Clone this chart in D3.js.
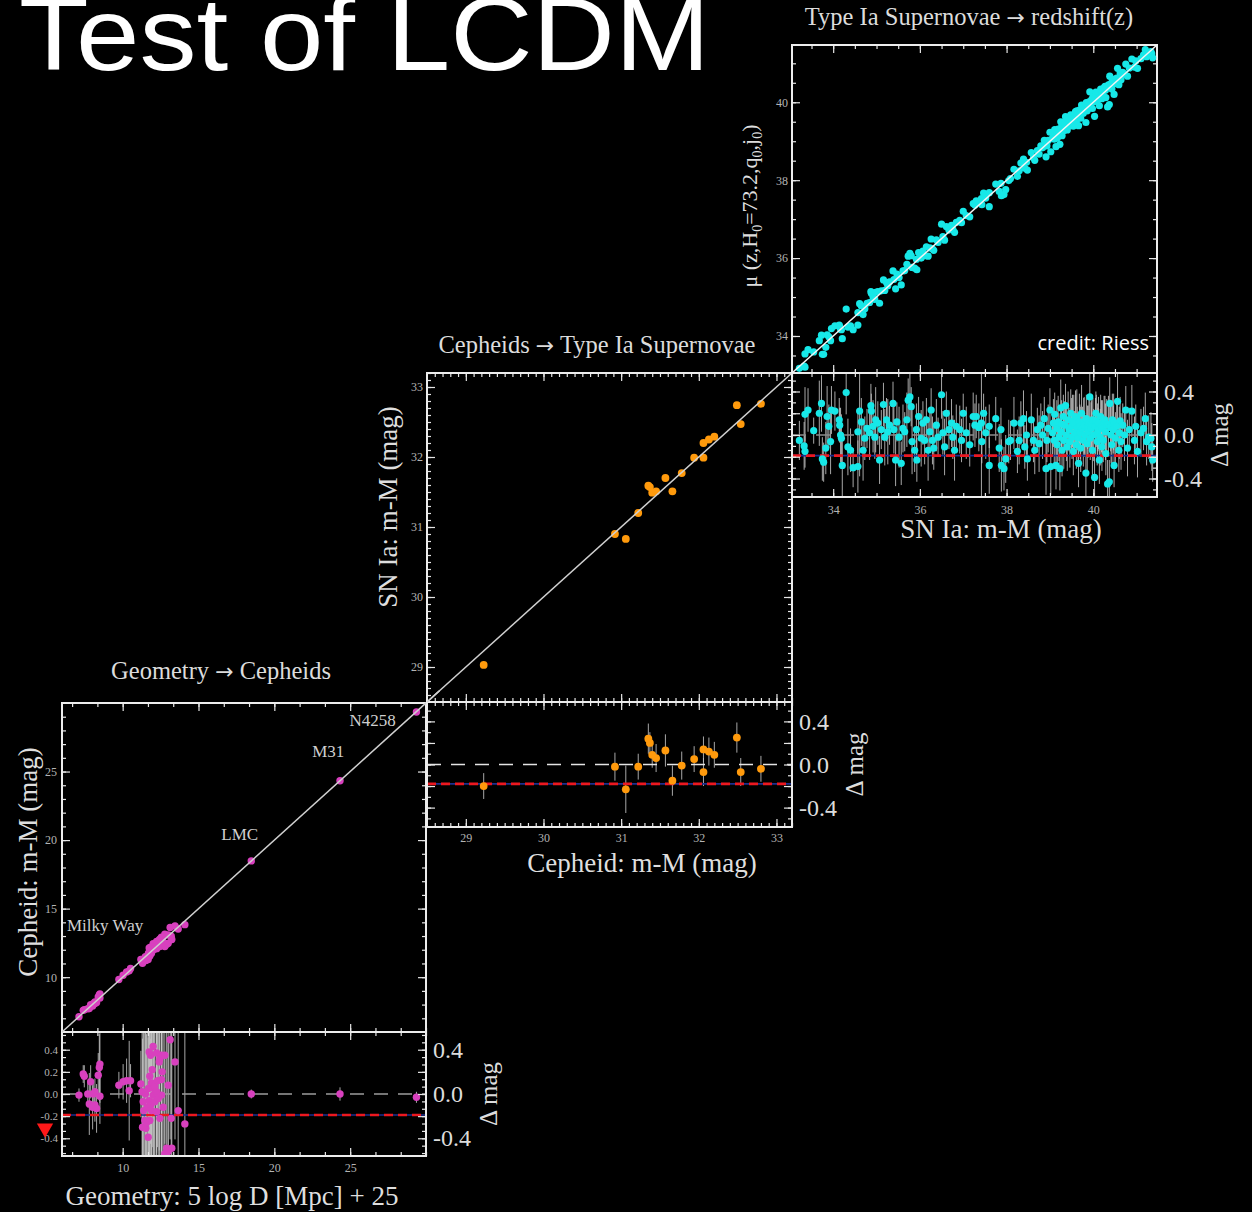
<!DOCTYPE html>
<html>
<head>
<meta charset="utf-8">
<script src="https://cdn.jsdelivr.net/npm/d3@7"></script>
<style>
  body { margin: 0; background: #000; }
  svg { display: block; }
</style>
</head>
<body>
<script>
// ---------------- data ----------------
var titleText = "Test of LCDM";
var panelTitles = [["Geometry", "Cepheids"], ["Cepheids", "Type Ia Supernovae"], ["Type Ia Supernovae", "redshift(z)"]];
var xTitles = ["Geometry: 5 log D [Mpc] + 25", "Cepheid: m-M (mag)", "SN Ia: m-M (mag)"];
var yTitles = ["Cepheid: m-M (mag)", "SN Ia: m-M (mag)"];
var galaxyNames = ["Milky Way", "LMC", "M31", "N4258"];
var creditText = "credit: Riess";

var p1Ticks = [10, 15, 20, 25];
var p2Ticks = [29, 30, 31, 32, 33];
var p3Ticks = [34, 36, 38, 40];
var resLeftTicks = [0.4, 0.2, 0.0, -0.2, -0.4];
var resRightTicks = [0.4, 0.0, -0.4];
var offsetLevel = [-0.19, -0.18, -0.19];   // red dashed line in each residual panel

// geometry distance, residual (Cepheid - geometry), error
var geoCeph = [
  [7.12,-0.01,0.06],[7.40,0.18,0.08],[7.47,0.16,0.10],[7.70,0.00,0.12],[7.89,0.11,0.15],[7.80,-0.09,0.28],
  [8.02,-0.12,0.20],[8.06,0.00,0.10],[8.17,-0.10,0.15],[8.17,0.02,0.12],[8.28,-0.13,0.22],[8.39,0.17,0.20],
  [8.46,0.24,0.30],[8.50,0.27,0.35],[8.50,-0.02,0.25],
  [9.75,0.08,0.12],[10.03,0.11,0.16],[10.26,0.12,0.20],[10.43,0.03,0.45],[10.52,0.12,0.15],
  [11.20,0.09,0.30],[11.28,0.02,0.90],[11.31,-0.30,0.80],[11.35,-0.07,1.00],[11.39,-0.15,0.70],[11.46,-0.24,0.90],
  [11.50,0.00,0.60],[11.53,-0.31,1.00],[11.57,-0.26,0.80],[11.62,-0.12,1.10],[11.68,-0.39,0.90],[11.70,0.05,0.70],
  [11.75,0.38,1.00],[11.75,-0.06,0.80],[11.79,0.16,0.90],[11.79,-0.24,1.20],[11.84,0.35,0.80],[11.85,-0.10,0.60],
  [11.90,0.10,1.00],[11.90,-0.15,0.90],[11.95,0.22,0.70],[12.01,0.43,1.10],[12.01,-0.01,0.80],[12.05,0.05,0.90],
  [12.12,0.07,1.00],[12.12,-0.07,0.70],[12.24,0.37,0.90],[12.24,0.02,0.80],[12.24,-0.16,1.00],[12.30,0.12,0.60],
  [12.35,-0.04,0.90],[12.41,0.29,0.80],[12.45,0.32,1.00],[12.45,-0.22,0.90],[12.56,0.35,0.70],[12.56,0.13,1.10],
  [12.56,-0.01,0.80],[12.60,0.20,0.90],[12.67,-0.12,1.00],[12.78,0.35,0.80],[12.78,-0.54,0.90],[12.90,-0.49,1.20],
  [13.00,0.08,0.80],[13.00,-0.52,1.00],[13.13,0.49,0.90],[13.20,-0.22,0.80],[13.24,-0.49,1.10],[13.45,0.29,0.70],
  [13.66,-0.15,1.00],[14.10,-0.27,0.90],
  [18.48,0.00,0.04],[24.33,0.00,0.06],[29.37,-0.03,0.05]
];

// Cepheid m-M, SN Ia m-M, error
var cephSn = [
  [29.23,29.03,0.12],[30.92,30.90,0.13],[31.06,30.83,0.22],[31.22,31.20,0.12],[31.35,31.59,0.14],
  [31.37,31.57,0.10],[31.40,31.49,0.12],[31.45,31.51,0.13],[31.57,31.70,0.15],[31.66,31.51,0.14],
  [31.78,31.77,0.13],[31.94,31.99,0.12],[32.06,31.99,0.13],[32.06,32.20,0.12],[32.13,32.25,0.13],
  [32.20,32.29,0.12],[32.49,32.74,0.14],[32.54,32.47,0.13],[32.80,32.76,0.12]
];

// SN Ia m-M, residual (mu(z) - SN), error
var snHubble = [
  [33.22,-0.05,0.18],[33.33,-0.10,0.22],[33.35,-0.15,0.15],[33.35,0.19,0.25],[33.42,0.23,0.20],[33.55,0.04,0.12],
  [33.68,0.20,0.30],[33.73,0.29,0.26],[33.75,-0.22,0.20],[33.78,-0.25,0.18],[33.83,-0.12,0.24],[33.86,0.17,0.28],
  [33.90,0.08,0.20],[33.96,0.23,0.22],[33.94,-0.06,0.30],[34.04,0.22,0.18],[34.14,0.14,0.20],[34.15,0.09,0.16],
  [34.17,0.00,0.25],[34.19,-0.03,0.22],[34.21,-0.28,0.30],[34.30,0.39,0.20],[34.34,-0.11,0.26],[34.40,-0.14,0.20],
  [34.46,-0.30,0.18],[34.57,-0.29,0.24],[34.57,0.03,0.20],[34.61,0.22,0.60],[34.65,0.12,0.22],[34.69,-0.14,0.28],
  [34.73,-0.03,0.20],[34.78,0.06,0.18],[34.84,0.02,0.25],[34.87,0.27,0.20],[34.88,0.22,0.16],[34.92,0.08,0.24],
  [34.96,-0.02,0.20],[34.98,0.14,0.30],[35.03,0.11,0.20],[35.07,-0.23,0.22],[35.11,0.05,0.18],[35.16,0.28,0.20],
  [35.19,-0.02,0.26],[35.23,0.14,0.20],[35.26,0.03,0.30],[35.30,0.09,0.18],[35.38,0.29,0.20],[35.40,0.05,0.22],
  [35.44,-0.23,0.24],[35.47,0.12,0.18],[35.52,-0.02,0.28],[35.57,-0.26,0.20],[35.61,0.06,0.22],[35.65,0.03,0.18],
  [35.70,0.14,0.25],[35.73,0.32,0.20],[35.77,0.35,0.22],[35.80,0.26,0.18],[35.82,-0.06,0.30],[35.88,-0.14,0.20],
  [35.92,0.05,0.24],[35.93,-0.23,0.20],[35.97,0.17,0.18],[36.03,-0.03,0.26],[36.07,0.11,0.20],[36.11,-0.05,0.22],
  [36.15,0.14,0.20],[36.19,-0.14,0.28],[36.23,0.03,0.18],[36.26,0.23,0.20],[36.29,-0.05,0.22],[36.32,-0.12,0.20],
  [36.38,0.09,0.24],[36.42,-0.02,0.18],[36.50,0.37,0.22],[36.53,0.02,0.20],[36.57,-0.11,0.26],[36.61,0.20,0.20],
  [36.67,0.05,0.18],[36.73,0.11,0.22],[36.76,-0.02,0.20],[36.80,-0.14,0.28],[36.84,0.08,0.20],[36.92,0.05,0.22],
  [36.96,-0.05,0.20],[37.00,0.20,0.18],[37.07,0.02,0.24],[37.15,-0.09,0.20],[37.23,0.17,0.22],[37.27,0.09,0.20],
  [37.30,0.17,0.20],[37.36,0.07,0.22],[37.42,0.11,0.80],[37.43,-0.06,0.20],[37.47,0.20,0.18],[37.52,0.02,0.24],
  [37.60,0.08,0.20],[37.60,-0.28,0.26],[37.75,0.15,0.20],[37.83,-0.12,0.22],[37.87,0.05,0.20],[37.88,-0.28,0.24],
  [37.94,-0.31,0.20],[37.98,-0.22,0.22],[38.05,-0.06,0.20],[38.09,-0.05,0.18],[38.17,0.11,0.24],[38.25,-0.15,0.20],
  [38.29,-0.05,0.22],[38.33,0.11,0.20],[38.39,0.15,0.26],[38.42,-0.11,0.20],[38.46,0.00,0.22],[38.48,-0.22,0.20],
  [38.57,0.14,0.24],[38.62,-0.05,0.20],[38.65,-0.14,0.22],[38.71,0.05,0.20],[38.75,-0.08,0.26],[38.79,0.09,0.20],
  [38.83,0.00,0.22],[38.87,0.15,0.20],[38.91,-0.31,0.24],[38.93,-0.05,0.20],[38.96,0.06,0.22],[39.00,0.23,0.20],
  [39.02,-0.29,0.26],[39.06,0.02,0.20],[39.08,0.11,0.22],[39.10,-0.05,0.24],[39.11,0.19,0.20],[39.14,-0.28,0.22],
  [39.16,0.06,0.26],[39.17,-0.09,0.20],[39.19,0.12,0.24],[39.21,-0.02,0.22],[39.23,-0.31,0.20],[39.25,0.25,0.26],
  [39.26,0.03,0.20],[39.27,0.10,0.22],[39.28,-0.14,0.24],[39.31,0.17,0.20],[39.32,-0.05,0.26],[39.34,0.09,0.22],
  [39.36,0.27,0.20],[39.38,0.00,0.24],[39.40,-0.11,0.22],[39.42,0.14,0.26],[39.44,0.05,0.20],[39.46,-0.06,0.24],
  [39.48,0.20,0.22],[39.50,0.08,0.26],[39.51,-0.02,0.20],[39.52,0.13,0.24],[39.54,-0.15,0.22],[39.55,0.11,0.26],
  [39.57,0.02,0.20],[39.59,0.17,0.24],[39.61,-0.09,0.22],[39.62,0.16,0.26],[39.63,0.06,0.20],[39.65,-0.03,0.24],
  [39.66,-0.26,0.22],[39.68,0.12,0.26],[39.69,0.08,0.20],[39.70,0.02,0.24],[39.71,-0.12,0.22],[39.73,0.20,0.26],
  [39.75,0.06,0.20],[39.77,-0.05,0.24],[39.78,0.12,0.22],[39.79,0.09,0.26],[39.80,0.00,0.20],[39.83,-0.35,0.24],
  [39.84,0.15,0.22],[39.86,-0.08,0.26],[39.87,0.07,0.20],[39.88,0.03,0.24],[39.90,0.11,0.22],[39.92,0.35,0.50],
  [39.93,-0.03,0.20],[39.95,0.06,0.24],[39.96,0.10,0.22],[39.98,-0.14,0.26],[39.99,0.14,0.20],[40.01,0.00,0.24],
  [40.03,-0.39,0.22],[40.05,0.08,0.26],[40.06,0.20,0.20],[40.07,0.13,0.24],[40.09,-0.06,0.22],[40.10,0.03,0.26],
  [40.11,0.05,0.20],[40.12,0.11,0.24],[40.14,-0.23,0.22],[40.16,-0.02,0.26],[40.17,0.17,0.20],[40.19,0.08,0.24],
  [40.20,-0.11,0.22],[40.21,0.06,0.26],[40.23,-0.05,0.20],[40.25,0.12,0.24],[40.27,0.14,0.22],[40.28,0.03,0.26],
  [40.29,-0.17,0.20],[40.31,0.09,0.24],[40.33,-0.45,0.22],[40.35,0.10,0.26],[40.37,-0.43,0.20],[40.38,0.29,0.24],
  [40.40,0.07,0.22],[40.41,0.00,0.26],[40.43,-0.09,0.20],[40.44,0.14,0.24],[40.46,0.05,0.22],[40.47,0.12,0.26],
  [40.48,-0.28,0.20],[40.51,-0.03,0.24],[40.54,0.08,0.22],[40.56,0.31,0.26],[40.59,-0.14,0.20],[40.60,0.02,0.24],
  [40.62,0.13,0.22],[40.64,-0.06,0.26],[40.68,0.09,0.20],[40.72,0.00,0.24],[40.75,0.23,0.22],[40.79,-0.12,0.26],
  [40.83,0.05,0.20],[40.89,0.22,0.24],[40.95,-0.05,0.22],[40.98,0.08,0.20],[41.02,-0.15,0.24],[41.10,0.02,0.22],
  [41.16,0.06,0.20],[41.20,0.15,0.24],[41.23,-0.06,0.22],[41.28,-0.02,0.20],[41.33,-0.03,0.24],[41.35,-0.11,0.22],
  [41.37,-0.23,0.20]
];

// ---------------- drawing ----------------
var SERIF = '"Liberation Serif", "Times New Roman", serif';
var svg = d3.select("body").append("svg").attr("width", 1252).attr("height", 1212).style("background", "#000");
var defs = svg.append("defs");

// ticks pointing inward on four sides + box
function frame(g, x, y, xMaj, xMin, yMaj, yMin) {
  var xr = x.range(), yr = y.range();
  var sides = [
    [d3.axisBottom, x, 0, yr[0], xMaj, xMin],
    [d3.axisTop, x, 0, yr[1], xMaj, xMin],
    [d3.axisLeft, y, xr[0], 0, yMaj, yMin],
    [d3.axisRight, y, xr[1], 0, yMaj, yMin]
  ];
  sides.forEach(function(s) {
    [[s[5], 4], [s[4], 8]].forEach(function(t) {
      g.append("g").attr("transform", "translate(" + s[2] + "," + s[3] + ")")
        .call(s[0](s[1]).tickValues(t[0]).tickSize(-t[1]).tickFormat(""))
        .call(function(a) { a.select(".domain").remove(); })
        .selectAll("line").attr("stroke", "#e6e6e6").attr("stroke-width", 1.2);
    });
  });
  g.append("rect").attr("x", xr[0]).attr("y", yr[1])
    .attr("width", xr[1] - xr[0]).attr("height", yr[0] - yr[1])
    .attr("fill", "none").attr("stroke", "#ececec").attr("stroke-width", 2);
}

function tickText(g, fn, sc, tx, ty, vals, fmt, pad, size, color) {
  g.append("g").attr("transform", "translate(" + tx + "," + ty + ")")
    .call(fn(sc).tickValues(vals).tickSize(0).tickPadding(pad).tickFormat(fmt))
    .call(function(a) { a.select(".domain").remove(); a.selectAll("line").remove(); })
    .selectAll("text").attr("font-family", SERIF).attr("font-size", size).attr("fill", color);
}

var fmt1 = function(d) { return d.toFixed(1); };
var fmt0 = function(d) { return String(d); };
var resMajor = [-0.4, -0.2, 0, 0.2, 0.4];

function buildPanel(c, pts) {
  var x = d3.scaleLinear().domain(c.dom).range([c.x0, c.x1]);
  var y = d3.scaleLinear().domain(c.dom).range([c.ym, c.yt]);
  var r = d3.scaleLinear().domain([-c.rlim, c.rlim]).range([c.yb, c.ym]);
  var g = svg.append("g");

  defs.append("clipPath").attr("id", "clip" + c.id).append("rect")
    .attr("x", c.x0).attr("y", c.ym).attr("width", c.x1 - c.x0).attr("height", c.yb - c.ym);

  // residual panel
  var rg = g.append("g").attr("clip-path", "url(#clip" + c.id + ")");
  rg.selectAll("line.eb").data(pts).join("line").attr("class", "eb")
    .attr("x1", function(d) { return x(d.x); }).attr("x2", function(d) { return x(d.x); })
    .attr("y1", function(d) { return r(d.res - d.err); }).attr("y2", function(d) { return r(d.res + d.err); })
    .attr("stroke", "#c4c4c4").attr("stroke-width", 1).attr("stroke-opacity", 0.85);
  rg.append("line").attr("x1", c.x0).attr("x2", c.x1).attr("y1", r(0)).attr("y2", r(0))
    .attr("stroke", c.zeroColor).attr("stroke-width", 1.3).attr("stroke-dasharray", "14,10");
  rg.append("line").attr("x1", c.x0).attr("x2", c.x1).attr("y1", r(c.offset)).attr("y2", r(c.offset))
    .attr("stroke", "#1d2f8f").attr("stroke-width", 1.6);
  rg.append("line").attr("x1", c.x0).attr("x2", c.x1).attr("y1", r(c.offset)).attr("y2", r(c.offset))
    .attr("stroke", "#ec1820").attr("stroke-width", 2.6).attr("stroke-dasharray", "9,5");
  rg.selectAll("circle.rp").data(pts).join("circle").attr("class", "rp")
    .attr("cx", function(d) { return x(d.x); }).attr("cy", function(d) { return r(d.res); })
    .attr("r", c.rad).attr("fill", c.color);
  frame(g, x, r, c.xMaj, c.xMin, resMajor, c.rMin);

  // main panel
  frame(g, x, y, c.xMaj, c.xMin, c.yMaj, c.yMin);
  g.selectAll("circle.mp").data(pts).join("circle").attr("class", "mp")
    .attr("cx", function(d) { return x(d.x); }).attr("cy", function(d) { return y(d.y); })
    .attr("r", c.rad).attr("fill", c.color);
  g.append("line")
    .attr("x1", x(c.dom[0])).attr("y1", y(c.dom[0]))
    .attr("x2", x(c.lineEnd)).attr("y2", y(c.lineEnd))
    .attr("stroke", c.lineColor).attr("stroke-width", 1.5);

  // tick labels
  tickText(g, d3.axisLeft, y, c.x0, 0, c.yMaj, fmt0, c.leftPad, 12, "#b4b4b4");
  tickText(g, d3.axisBottom, x, 0, c.yb, c.xMaj, fmt0, c.botPad, 12, "#b4b4b4");
  tickText(g, d3.axisRight, r, c.x1, 0, resRightTicks, fmt1, 7, 24, "#dcdcdc");

  // delta mag
  svg.append("text").attr("transform", "translate(" + (c.x1 + 71) + "," + r(0) + ") rotate(-90)")
    .attr("text-anchor", "middle").attr("font-family", SERIF).attr("font-size", 25).attr("fill", "#dcdcdc")
    .text("\u0394 mag");
  return { x: x, y: y, r: r, g: g };
}

// panel 1: geometry -> Cepheids
var P1 = buildPanel({
  id: 1, x0: 62, x1: 426, yt: 703, ym: 1032, yb: 1156, dom: [6, 30], rlim: 0.56, lineEnd: 30.9,
  xMaj: p1Ticks, xMin: d3.range(-2, 13).map(function(k) { return 10 + k * 5 / 3; }),
  yMaj: p1Ticks, yMin: d3.range(7, 30, 1), rMin: d3.range(-8, 9).map(function(k) { return k * 0.2 / 3; }),
  color: "#d840be", rad: 3.7, zeroColor: "#9c9c9c", lineColor: "#d0d0d0", offset: offsetLevel[0],
  leftPad: 5, botPad: 7
}, geoCeph.map(function(d) { return { x: d[0], y: d[0] + d[1], res: d[1], err: d[2] }; }));

tickText(P1.g, d3.axisLeft, P1.r, 62, 0, resLeftTicks, fmt1, 4, 11, "#b4b4b4");

// panel 2: Cepheids -> SN Ia
var P2 = buildPanel({
  id: 2, x0: 427, x1: 792, yt: 373, ym: 702, yb: 827, dom: [28.5, 33.2], rlim: 0.58, lineEnd: 33.2,
  xMaj: p2Ticks, xMin: d3.range(286, 333).map(function(k) { return k / 10; }),
  yMaj: p2Ticks, yMin: d3.range(286, 333).map(function(k) { return k / 10; }),
  rMin: d3.range(-5, 6).map(function(k) { return k / 10; }),
  color: "#ff9a0c", rad: 3.9, zeroColor: "#e4e4e4", lineColor: "#d0d0d0", offset: offsetLevel[1],
  leftPad: 4, botPad: 6
}, cephSn.map(function(d) { return { x: d[0], y: d[1], res: d[1] - d[0], err: d[2] }; }));

// panel 3: SN Ia -> redshift
var P3 = buildPanel({
  id: 3, x0: 792, x1: 1157, yt: 45, ym: 373, yb: 497, dom: [33.05, 41.47], rlim: 0.57, lineEnd: 41.47,
  xMaj: p3Ticks, xMin: d3.range(67, 83).map(function(k) { return k / 2; }),
  yMaj: p3Ticks, yMin: d3.range(67, 83).map(function(k) { return k / 2; }),
  rMin: d3.range(-5, 6).map(function(k) { return k / 10; }),
  color: "#17e8e8", rad: 3.6, zeroColor: "#8a8a8a", lineColor: "#f4f4f4", offset: offsetLevel[2],
  leftPad: 4, botPad: 8
}, snHubble.map(function(d) { return { x: d[0], y: d[0] + d[1], res: d[1], err: d[2] }; }));

// red marker at left of panel 1 residuals
svg.append("path")
  .attr("d", d3.symbol().type(d3.symbolTriangle).size(115)())
  .attr("transform", "translate(" + P1.x(4.88) + "," + P1.r(-0.31) + ") rotate(180)")
  .attr("fill", "#ff1818");

// galaxy labels in panel 1 (anchored in data units)
var galaxyAnchor = [[6.33, 13.4], [16.5, 19.97], [22.5, 26.04], [24.95, 28.3]];
svg.selectAll("text.gal").data(galaxyNames).join("text").attr("class", "gal")
  .attr("x", function(d, i) { return P1.x(galaxyAnchor[i][0]); })
  .attr("y", function(d, i) { return P1.y(galaxyAnchor[i][1]); })
  .attr("font-family", SERIF).attr("font-size", 17).attr("fill", "#cfcfcf")
  .text(function(d) { return d; });

// panel titles, arrow drawn from DejaVu for a longer glyph
[[221, 679], [597, 353], [969, 25]].forEach(function(p, i) {
  var t = svg.append("text").attr("x", p[0]).attr("y", p[1]).attr("text-anchor", "middle")
    .attr("font-family", SERIF).attr("font-size", 24.5).attr("fill", "#dcdcdc");
  t.append("tspan").text(panelTitles[i][0] + " ");
  t.append("tspan").attr("font-family", '"DejaVu Sans", sans-serif').attr("font-size", 22).text("\u2192");
  t.append("tspan").text(" " + panelTitles[i][1]);
});

// x axis titles
[[232, 1205], [642, 872], [1001, 538]].forEach(function(p, i) {
  svg.append("text").attr("x", p[0]).attr("y", p[1]).attr("text-anchor", "middle")
    .attr("font-family", SERIF).attr("font-size", 27).attr("fill", "#dedede").text(xTitles[i]);
});

// y axis titles
[[37, 862], [397, 507]].forEach(function(p, i) {
  svg.append("text").attr("transform", "translate(" + p[0] + "," + p[1] + ") rotate(-90)")
    .attr("text-anchor", "middle").attr("font-family", SERIF).attr("font-size", 27)
    .attr("fill", "#dedede").text(yTitles[i]);
});

var mu = svg.append("text").attr("transform", "translate(757,206) rotate(-90)")
  .attr("text-anchor", "middle").attr("font-family", SERIF).attr("font-size", 22).attr("fill", "#dedede");
mu.append("tspan").text("\u03bc (z,H");
mu.append("tspan").attr("font-size", 14).attr("dy", 5).text("0");
mu.append("tspan").attr("dy", -5).text("=73.2,q");
mu.append("tspan").attr("font-size", 14).attr("dy", 5).text("0");
mu.append("tspan").attr("dy", -5).text(",j");
mu.append("tspan").attr("font-size", 14).attr("dy", 5).text("0");
mu.append("tspan").attr("dy", -5).text(")");

// credit
svg.append("text").attr("x", 1149).attr("y", 350).attr("text-anchor", "end")
  .attr("font-family", '"Open Sans", "DejaVu Sans", sans-serif').attr("font-size", 20)
  .attr("fill", "#ffffff").text(creditText);

// big slide title (cut at the top edge, as on the slide)
svg.append("text").attr("x", 19).attr("y", 70)
  .attr("font-family", '"Liberation Sans", Arial, sans-serif').attr("font-size", 104)
  .attr("textLength", 691).attr("lengthAdjust", "spacingAndGlyphs")
  .attr("fill", "#ffffff").text(titleText);
</script>
</body>
</html>
